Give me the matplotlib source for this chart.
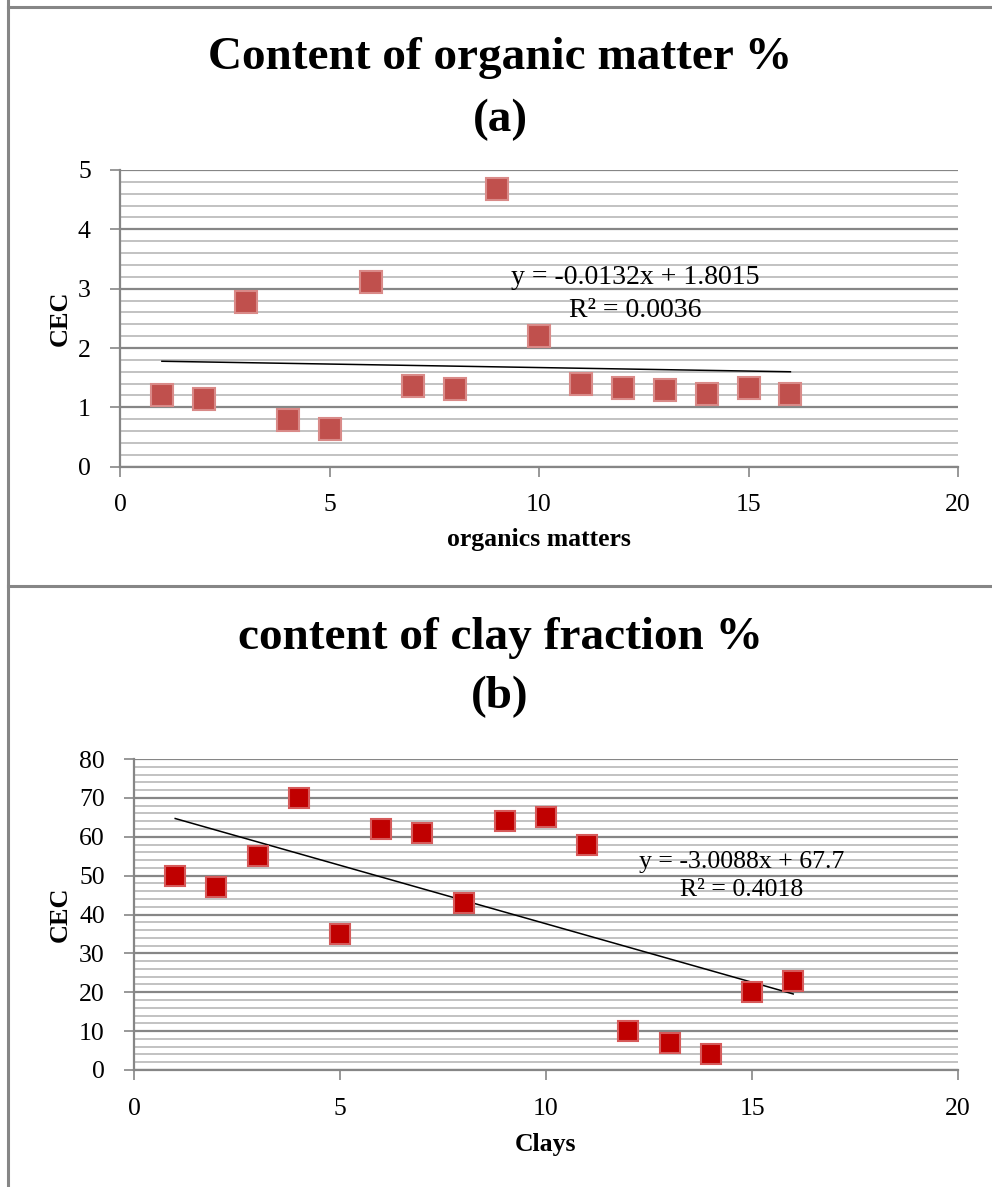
import numpy as np
import matplotlib
matplotlib.use("Agg")
import matplotlib.pyplot as plt
from matplotlib.ticker import MultipleLocator
from matplotlib.lines import Line2D

# ---- data ----
x_idx = [1, 2, 3, 4, 5, 6, 7, 8, 9, 10, 11, 12, 13, 14, 15, 16]
organic_cec = [1.215, 1.14, 2.78, 0.79, 0.64, 3.11, 1.36, 1.31, 4.68, 2.21,
               1.40, 1.32, 1.30, 1.22, 1.32, 1.22]
clay_cec = [50, 47, 55, 70, 35, 62, 61, 43, 64, 65, 58, 10, 7, 4, 20, 23]

title_a = ["Content of organic matter %", "(a)"]
title_b = ["content of clay fraction %", "(b)"]
xlabel_a = "organics matters"
xlabel_b = "Clays"
ylabel = "CEC"
eq_a = "y = -0.0132x + 1.8015\nR² = 0.0036"
eq_b = "y = -3.0088x + 67.7\nR² = 0.4018"

W, H = 992, 1187
fig = plt.figure(figsize=(W / 100, H / 100), dpi=100)
plt.rcParams['font.family'] = ['Liberation Serif', 'DejaVu Serif']

GRAY = '#868686'
LIGHT = '#b8b8b8'

def fx(px):
    return px / W

def fy(py):
    return 1 - py / H

# panel frames
fig.add_artist(Line2D([fx(8), fx(8)], [fy(0), fy(H)], color=GRAY, lw=2.2))
fig.add_artist(Line2D([fx(8), 1], [fy(6.5), fy(6.5)], color=GRAY, lw=2.2))
fig.add_artist(Line2D([fx(8), 1], [fy(585.5), fy(585.5)], color=GRAY, lw=2.2))


def make_panel(left, top, right, bottom, xs, ys, ymax, ymajor, yminor,
               face, edge, ms, titles, title_y, xlab, xlab_y, ylab_x, eq,
               eq_pos, eq_fs):
    ax = fig.add_axes([fx(left), fy(bottom), fx(right - left), (bottom - top) / H])
    ax.set_xlim(0, 20)
    ax.set_ylim(0, ymax)
    ax.xaxis.set_major_locator(MultipleLocator(5))
    ax.yaxis.set_major_locator(MultipleLocator(ymajor))
    ax.yaxis.set_minor_locator(MultipleLocator(yminor))
    ax.grid(which='major', axis='y', color=GRAY, lw=1.6)
    ax.grid(which='minor', axis='y', color=LIGHT, lw=1.2)
    ax.set_axisbelow(True)
    for s in ['top', 'right']:
        ax.spines[s].set_visible(False)
    for s in ['left', 'bottom']:
        ax.spines[s].set_color(GRAY)
        ax.spines[s].set_linewidth(1.6)
    ax.tick_params(which='major', direction='out', length=7, color=GRAY,
                   width=1.2, labelsize=18.5)
    ax.tick_params(which='minor', length=0)
    ax.tick_params(axis='y', pad=14)
    ax.tick_params(axis='x', pad=13)
    # trendline
    xa = np.array(xs, dtype=float)
    ya = np.array(ys, dtype=float)
    m, b = np.polyfit(xa, ya, 1)
    xl = np.array([xa.min(), xa.max()])
    ax.plot(xl, m * xl + b, color='black', lw=1.1, zorder=3)
    ax.plot(xs, ys, linestyle='none', marker='s', ms=ms, mfc=face,
            mec=edge, mew=1.5, zorder=4, clip_on=False)
    ax.text(eq_pos[0], eq_pos[1], eq, transform=ax.transAxes, ha='center',
            va='center', fontsize=eq_fs, linespacing=1.4, zorder=5)
    # titles
    fig.text(0.5 + fx(4), fy(title_y[0]), titles[0], ha='center', va='center',
             fontsize=34, fontweight='bold')
    fig.text(0.5 + fx(4), fy(title_y[1]), titles[1], ha='center', va='center',
             fontsize=34, fontweight='bold')
    fig.text(fx((left + right) / 2), fy(xlab_y), xlab, ha='center',
             va='center', fontsize=18.5, fontweight='bold')
    fig.text(fx(ylab_x), fy((top + bottom) / 2), ylabel, ha='center',
             va='center', rotation=90, fontsize=19, fontweight='bold')
    return ax


make_panel(120, 170, 958, 466.7, x_idx, organic_cec, 5, 1, 0.2,
           '#C0504D', '#D98A88', 15.5, title_a, (58, 120), xlabel_a, 540, 60,
           eq_a, (0.615, 0.582), 20)
make_panel(134, 759, 958, 1070, x_idx, clay_cec, 80, 10, 2,
           '#C00000', '#D65A5A', 14.5, title_b, (638, 697), xlabel_b, 1145, 60,
           eq_b, (0.737, 0.624), 18.5)

fig.savefig('out.png', dpi=100)
